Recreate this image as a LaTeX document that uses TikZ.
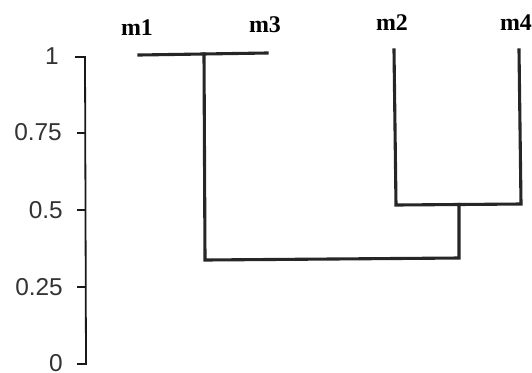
\documentclass[tikz,border=0pt]{standalone}
\usepackage{fontspec}
\setmainfont{Liberation Serif}
\newfontfamily\axisfont{Liberation Sans}
\begin{document}
\begin{tikzpicture}[x=1bp,y=-1bp,
  axisline/.style={line width=1.8bp,black!90},
  branch/.style={line width=3.1bp,black!85,line cap=rect},
  ticklabel/.style={font=\axisfont\fontsize{24.5}{26}\selectfont,text=black!80,anchor=east,inner sep=0pt},
  leaflabel/.style={font=\bfseries\fontsize{24}{26}\selectfont,inner sep=0pt}]
\useasboundingbox (0,0) rectangle (532,372);

% similarity axis
\coordinate (atop) at (85,57);
\coordinate (abot) at (86,364);
\coordinate (tk1) at (75,57);
\coordinate (tk0) at (77,364);
\draw[axisline] (tk1) -- (atop) -- (abot) -- (tk0);
\foreach \v/\yy/\nm in {0.75/133/t75,0.5/210/t50,0.25/287/t25}{
  \coordinate (\nm) at (85.5,\yy);
  \draw[axisline] (\nm) -- ++(-9,0);
}
\node[ticklabel] (l1)  at (59,56)  {1};
\node[ticklabel] (l75) at (62,132) {0.75};
\node[ticklabel] (l50) at (63,210) {0.5};
\node[ticklabel] (l25) at (63,287) {0.25};
\node[ticklabel] (l0)  at (63,363) {0};

% leaf labels
\node[leaflabel] (m1) at (137,28) {m1};
\node[leaflabel] (m3) at (265,25) {m3};
\node[leaflabel] (m2) at (392,23) {m2};
\node[leaflabel] (m4) at (516,23) {m4};

% cluster m1,m3 at similarity 1
\coordinate (b13l) at (139,55);
\coordinate (b13r) at (267,53);
\coordinate (b13m) at (204,54);
\draw[branch] (b13l) -- (b13r);

% cluster m2,m4
\coordinate (m2top) at (394,50);
\coordinate (m4top) at (519,50);
\coordinate (m2bot) at (396,205);
\coordinate (m4bot) at (521,204);
\coordinate (c24) at (459,204.5);
\draw[branch] (m2top) -- (m2bot) -- (m4bot) -- (m4top);

% root join
\coordinate (r13) at (205,260);
\coordinate (r24) at (459,258);
\draw[branch] (b13m) -- (r13) -- (r24) -- (c24);
\end{tikzpicture}
\end{document}
